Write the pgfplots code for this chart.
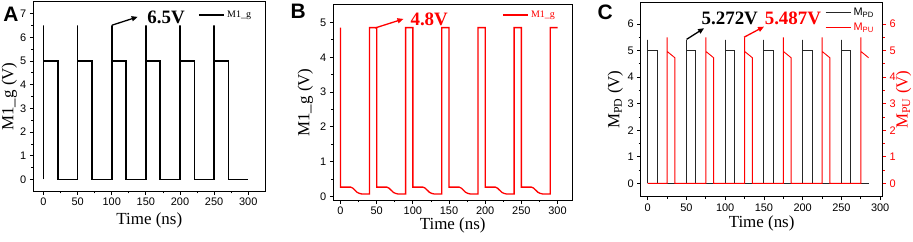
\documentclass[border=0pt]{standalone}
\usepackage{fontspec}
\setmainfont{Liberation Serif}
\newfontfamily\arial{Liberation Sans}
\usepackage{pgfplots}
\pgfplotsset{compat=1.18}
\usetikzlibrary{arrows.meta}
\definecolor{myred}{RGB}{255,0,0}
\newcommand{\labfont}{\fontsize{17}{18}\selectfont}
\pgfplotsset{
  myax/.style={
    scale only axis, clip=false, anchor=south west,
    tick align=outside, xtick pos=bottom, ytick pos=left,
    minor x tick num=1, minor y tick num=1,
    major tick length=3.5bp, minor tick length=2bp,
    axis line style={line width=1bp},
    every tick/.style={line width=0.8bp,black},
    /pgf/number format/assume math mode=true,
    tick label style={font=\arial\fontsize{11}{12}\selectfont},
    xtick={0,50,...,300},
    xlabel={Time (ns)},
    legend style={draw=none,fill=none,inner sep=0pt,font=\fontsize{10}{11}\selectfont},
    legend cell align=left,
    legend image code/.code={\draw[##1] (0,0) -- (0.9cm,0);},
  }
}
\begin{document}
\begin{tikzpicture}
% ---------------- Panel A
\begin{axis}[myax, at={(33.3bp,50.7bp)}, width=232bp, height=189.6bp,
  xmin=-15, xmax=325, ymin=-0.5, ymax=7.5, ytick={0,1,...,7},
  ylabel={M1\_g (V)},
  every axis x label/.style={at={(axis description cs:0.5,-0.153)},anchor=center,font=\labfont},
  every axis y label/.style={at={(axis description cs:-0.103,0.5)},anchor=center,rotate=90,font=\labfont},
  legend style={at={(axis description cs:0.71,0.93)},anchor=west}]
\addplot[black, line width=1.5bp] coordinates {
(0,0)(0,6.5)(0,5)(21,5)(21,0)
(50,0)(50,6.5)(50,5)(71,5)(71,0)
(100,0)(100,6.5)(100,5)(121,5)(121,0)
(150,0)(150,6.5)(150,5)(171,5)(171,0)
(200,0)(200,6.5)(200,5)(221,5)(221,0)
(250,0)(250,6.5)(250,5)(271,5)(271,0)(300,0)};
\addlegendentry{M1\_g}
\draw[-{Triangle[length=6bp,width=5bp]}, line width=1.3bp] (axis cs:100.4,6.51) -- (axis cs:138,6.86);
\node[font=\bfseries\fontsize{19}{20}\selectfont] at (axis cs:179.6,6.83) {6.5V};
\end{axis}
% ---------------- Panel B
\begin{axis}[myax, at={(333.3bp,42bp)}, width=238.7bp, height=195bp,
  xmin=-10, xmax=320, ymin=-0.1, ymax=5.5, ytick={0,1,...,5},
  ylabel={M1\_g (V)},
  every axis x label/.style={at={(axis description cs:0.5,-0.13)},anchor=center,font=\labfont},
  every axis y label/.style={at={(axis description cs:-0.117,0.5)},anchor=center,rotate=90,font=\labfont},
  legend style={at={(axis description cs:0.707,0.949)},anchor=west}]
\addplot[myred, line width=1.3bp] coordinates {
(0,4.85)(0,0.27)(14,0.27)(17,0.24)(20,0.18)(23,0.12)(26,0.09)(30,0.07)(40,0.07)(40,4.85)
(50,4.85)(50,0.27)(64,0.27)(67,0.24)(70,0.18)(73,0.12)(76,0.09)(80,0.07)(90,0.07)(90,4.85)
(100,4.85)(100,0.27)(114,0.27)(117,0.24)(120,0.18)(123,0.12)(126,0.09)(130,0.07)(140,0.07)(140,4.85)
(150,4.85)(150,0.27)(164,0.27)(167,0.24)(170,0.18)(173,0.12)(176,0.09)(180,0.07)(190,0.07)(190,4.85)
(200,4.85)(200,0.27)(214,0.27)(217,0.24)(220,0.18)(223,0.12)(226,0.09)(230,0.07)(240,0.07)(240,4.85)
(250,4.85)(250,0.27)(264,0.27)(267,0.24)(270,0.18)(273,0.12)(276,0.09)(280,0.07)(290,0.07)(290,4.85)(300,4.85)};
\addlegendentry{\textcolor{myred}{M1\_g}}
\draw[myred, -{Triangle[length=6bp,width=5bp]}, line width=1.3bp] (axis cs:47.8,4.84) -- (axis cs:87,5.10);
\node[myred, font=\bfseries\fontsize{19}{20}\selectfont] at (axis cs:122.6,5.1) {4.8V};
\end{axis}
% ---------------- Panel C (left axis)
\begin{axis}[myax, at={(640.7bp,45.3bp)}, width=241.8bp, height=194bp,
  xmin=-9, xmax=303, ymin=-0.5, ymax=6.8, ytick={0,1,...,6},
  ylabel={M\textsubscript{PD} (V)},
  every axis x label/.style={at={(axis description cs:0.5,-0.138)},anchor=center,font=\labfont},
  every axis y label/.style={at={(axis description cs:-0.105,0.5)},anchor=center,rotate=90,font=\labfont}]
\addplot[black!85, line width=0.9bp] coordinates {
(0,0)(0,5.4)(0,5)(12,5)(12,0)
(50,0)(50,5.4)(50,5)(62,5)(62,0)
(100,0)(100,5.4)(100,5)(112,5)(112,0)
(150,0)(150,5.4)(150,5)(162,5)(162,0)
(200,0)(200,5.4)(200,5)(212,5)(212,0)
(250,0)(250,5.4)(250,5)(262,5)(262,0)(286,0)};
\end{axis}
% ---------------- Panel C (right axis)
\begin{axis}[myax, at={(640.7bp,45.3bp)}, width=241.8bp, height=194bp,
  xmin=-9, xmax=303, ymin=-0.5, ymax=6.8, ytick={0,1,...,6},
  hide x axis, axis y line*=right, ytick pos=right,
  every tick/.style={line width=0.8bp,myred},
  yticklabel style={myred},
  ylabel={M\textsubscript{PU} (V)},
  every axis y label/.style={at={(axis description cs:1.087,0.5)},anchor=center,rotate=90,myred,font=\labfont},
  legend style={at={(axis description cs:0.762,0.911)},anchor=west,font=\arial\fontsize{11}{12}\selectfont,row sep=2bp}]
\addlegendimage{black!85,line width=0.9bp}
\addlegendentry{M\textsubscript{PD}}
\addplot[myred, line width=0.9bp] coordinates {
(0,0)(25,0)(25,5.5)(25,4.97)(35,4.73)(35,0)
(75,0)(75,5.5)(75,4.97)(85,4.73)(85,0)
(125,0)(125,5.5)(125,4.97)(135,4.73)(135,0)
(175,0)(175,5.5)(175,4.97)(185,4.73)(185,0)
(225,0)(225,5.5)(225,4.97)(235,4.73)(235,0)
(275,0)(275,5.5)(275,4.97)(285,4.73)};
\addlegendentry{\textcolor{myred}{M\textsubscript{PU}}}
\draw[black, -{Triangle[length=6bp,width=5bp]}, line width=1.3bp] (axis cs:50.2,5.42) -- (axis cs:72.8,5.84);
\node[black, font=\bfseries\fontsize{19}{20}\selectfont] at (axis cs:105.9,6.21) {5.272V};
\draw[myred, -{Triangle[length=6bp,width=5bp]}, line width=1.3bp] (axis cs:124.3,5.50) -- (axis cs:150.1,5.90);
\node[myred, font=\bfseries\fontsize{19}{20}\selectfont] at (axis cs:187.4,6.21) {5.487V};
\end{axis}
% panel letters
\node[font=\arial\bfseries\fontsize{21}{22}\selectfont, anchor=base west, inner sep=0pt] at (3.3bp,220.3bp) {A};
\node[font=\arial\bfseries\fontsize{21}{22}\selectfont, anchor=base west, inner sep=0pt] at (290.5bp,223.7bp) {B};
\node[font=\arial\bfseries\fontsize{21}{22}\selectfont, anchor=base west, inner sep=0pt] at (597.5bp,222bp) {C};
\pgfresetboundingbox
\path (0,0) rectangle (913bp,242bp);
\end{tikzpicture}
\end{document}
